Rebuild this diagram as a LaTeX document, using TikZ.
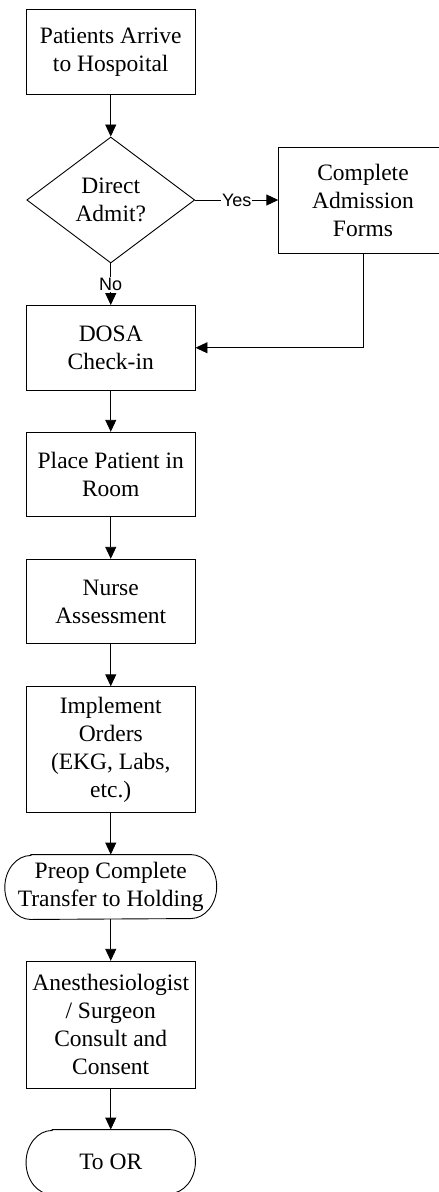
\documentclass[tikz,border=0pt]{standalone}
\usepackage{fontspec}
\setmainfont{Liberation Serif}
\newfontfamily\lblfont{Liberation Sans}
\usetikzlibrary{shapes.geometric,arrows.meta}

\tikzset{
  every node/.style={font=\fontsize{23.5}{28}\selectfont, align=center, inner sep=0pt},
  box/.style={draw, rectangle, minimum width=168.5pt, minimum height=84.5pt},
  decision/.style={draw, diamond, minimum width=168pt, minimum height=126pt},
  terminal/.style={rectangle, minimum width=168.5pt, minimum height=64pt},
  lbl/.style={font=\lblfont\fontsize{18}{20}\selectfont, fill=white, inner sep=1pt},
  arr/.style={-{Triangle[length=12pt,width=11pt]}},
}
% outline of a terminal node: half ellipses at both ends
\newcommand{\termoutline}[1]{%
  \draw ([xshift=26pt]#1.north west) -- ([xshift=-26pt]#1.north east)
    arc[start angle=90, end angle=-90, x radius=26pt, y radius=32pt]
    -- ([xshift=26pt]#1.south west)
    arc[start angle=270, end angle=90, x radius=26pt, y radius=32pt] -- cycle;}

\begin{document}
\begin{tikzpicture}[x=1pt, y=-1pt, line width=0.9pt]
        \useasboundingbox (0,0) rectangle (439,1192);

        \node[box] (arrive) at (110.75, 51.75){Patients Arrive\\to Hospoital};
        \node[decision] (direct) at (110.75, 200){Direct\\Admit?};
        \node[box, minimum height=106pt] (forms) at (363, 200){Complete\\Admission\\Forms};
        \node[box] (dosa) at (110.75, 347.75){DOSA\\Check-in};
        \node[box] (room) at (110.75, 474.5){Place Patient in\\Room};
        \node[box] (nurse) at (110.75, 601.5){Nurse\\Assessment};
        \node[box, minimum height=125.5pt] (orders) at (110.75, 749.5){Implement\\Orders\\(EKG, Labs,\\etc.)};
        \node[terminal, minimum width=211pt] (preop) at (110.75, 887){Preop Complete\\Transfer to Holding};
        \node[box, minimum height=127pt] (consult) at (110.75, 1024.75){Anesthesiologist\\/ Surgeon\\Consult and\\Consent};
        \node[terminal] (toor) at (110.75, 1162){To OR};
        \termoutline{preop}
        \termoutline{toor}

        % connectors
        \draw[arr] (arrive) -- (direct);
        \draw[arr] (direct.east) -- node[lbl]{Yes} (forms.west);
        \draw[arr] (direct.south) -- node[lbl]{No} (dosa.north);
        \draw[arr] (forms.south) |- (dosa.east);
        \draw[arr] (dosa) -- (room);
        \draw[arr] (room) -- (nurse);
        \draw[arr] (nurse) -- (orders);
        \draw[arr] (orders) -- (preop);
        \draw[arr] (preop) -- (consult);
        \draw[arr] (consult) -- (toor);

\end{tikzpicture}
\end{document}
